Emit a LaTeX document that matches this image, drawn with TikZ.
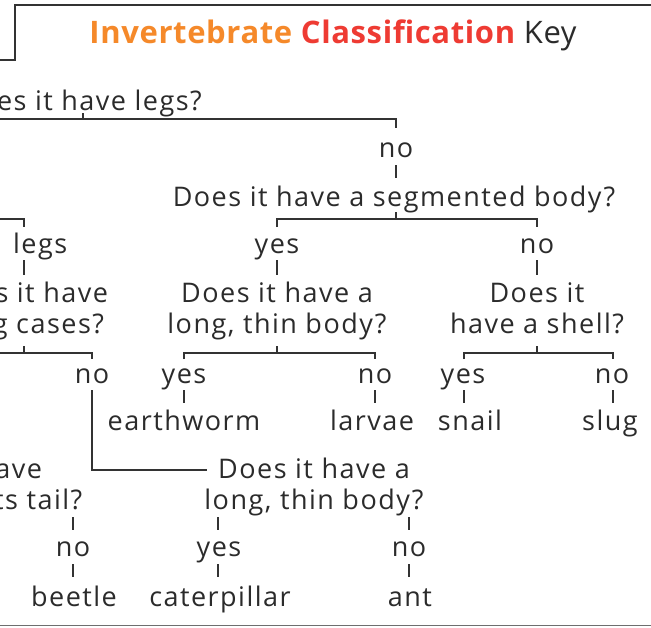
\documentclass[tikz,border=0pt]{standalone}
\usepackage{fontspec}
\setmainfont{Open Sans}[LetterSpace=5.5]
\definecolor{ink}{HTML}{2B2B2B}
\definecolor{torange}{HTML}{F5892A}
\definecolor{tred}{HTML}{EE3B33}
\definecolor{rulec}{HTML}{333333}
\definecolor{basec}{HTML}{6E6E6E}
\begin{document}
\begin{tikzpicture}[x=1pt,y=-1pt,
  txt/.style={inner sep=0pt, anchor=base, text=ink, font=\fontsize{27}{31}\selectfont},
  qbox/.style={txt, align=center},
  ln/.style={draw=rulec, line width=2pt},
]
\useasboundingbox (0,0) rectangle (651,627);
\clip (0,0) rectangle (651,627);
% frame and base line
\draw[ln] (-5,60) -- (15,60) -- (15,5) -- (660,5);
\draw[draw=basec, line width=1.5pt] (-5,625.5) -- (660,625.5);
% title
\node[txt, font=\fontsize{31}{34}\selectfont\addfontfeature{LetterSpace=2}] (title) at (333,43)
  {{\bfseries\color{torange}Invertebrate} {\bfseries\color{tred}Classification} Key};
% nodes
\node[txt, anchor=base east] (qlegs) at (202,110) {Does it have legs?};
\node[txt] (no1) at (396,157) {no};
\node[txt] (qseg) at (394,206) {Does it have a segmented body?};
\node[txt, anchor=base west] (legs) at (13,253) {legs};
\node[txt] (yes2) at (277,253) {yes};
\node[txt] (no2) at (537,253) {no};
\node[qbox] (qwing) at (24,333) {Does it have\\wing cases?};
\node[qbox] (qthin) at (277,333) {Does it have a\\long, thin body?};
\node[qbox] (qshell) at (537,333) {Does it\\have a shell?};
\node[txt] (no3a) at (92,383) {no};
\node[txt] (yes3) at (184,383) {yes};
\node[txt] (no3) at (375,383) {no};
\node[txt] (yes4) at (463,383) {yes};
\node[txt] (no4) at (612,383) {no};
\node[txt] (worm) at (184,430) {earthworm};
\node[txt] (larvae) at (372,430) {larvae};
\node[txt] (snail) at (470,430) {snail};
\node[txt] (slug) at (610,430) {slug};
\node[qbox] (qtail) at (-42,509) {Does it have\\pincers on its tail?};
\node[qbox] (qthin2) at (314,509) {Does it have a\\long, thin body?};
\node[txt] (no5) at (73,556) {no};
\node[txt] (yes5) at (219,556) {yes};
\node[txt] (no6) at (409,556) {no};
\node[txt] (beetle) at (74,606) {beetle};
\node[txt] (cater) at (220,606) {caterpillar};
\node[txt] (ant) at (410,606) {ant};
% connectors
\coordinate (legsbar) at (83,119);
\draw[ln] (legsbar |- 0,113) -- (legsbar);
\draw[ln] (-5,119) -- (no1 |- legsbar) -- (no1 |- 0,128);
\draw[ln] (no1 |- 0,165) -- (no1 |- 0,178);
\draw[ln] (no1 |- 0,212) -- (no1 |- 0,219);
\draw[ln] (yes2 |- 0,227) -- (yes2 |- 0,219) -- (no2 |- 0,219) -- (no2 |- 0,227);
\draw[ln] (-5,219) -- (24,219) -- (24,227);
\draw[ln] (24,260) -- (24,275);
\draw[ln] (yes2 |- 0,260) -- (qthin |- 0,275);
\draw[ln] (no2 |- 0,260) -- (qshell |- 0,275);
\draw[ln] (qwing |- 0,346) -- (qwing |- 0,353);
\draw[ln] (-5,353) -- (no3a |- 0,353) -- (no3a |- 0,359);
\draw[ln] (qthin |- 0,346) -- (qthin |- 0,353);
\draw[ln] (yes3 |- 0,359) -- (yes3 |- 0,353) -- (no3 |- 0,353) -- (no3 |- 0,359);
\draw[ln] (qshell |- 0,346) -- (qshell |- 0,353);
\draw[ln] (464,359) -- (464,353) -- (613,353) -- (613,359);
\draw[ln] (yes3 |- 0,390) -- (worm |- 0,403);
\draw[ln] (no3 |- 0,390) -- (no3 |- 0,403);
\draw[ln] (464,390) -- (464,403);
\draw[ln] (613,390) -- (613,403);
\draw[ln] (no3a |- 0,390) -- (no3a |- 0,470) -- (207,470);
\draw[ln] (no5 |- 0,517) -- (no5 |- 0,530);
\draw[ln] (218,517) -- (218,530);
\draw[ln] (no6 |- 0,517) -- (no6 |- 0,530);
\draw[ln] (no5 |- 0,564) -- (no5 |- 0,577);
\draw[ln] (218,564) -- (218,577);
\draw[ln] (no6 |- 0,564) -- (no6 |- 0,577);
\end{tikzpicture}
\end{document}
